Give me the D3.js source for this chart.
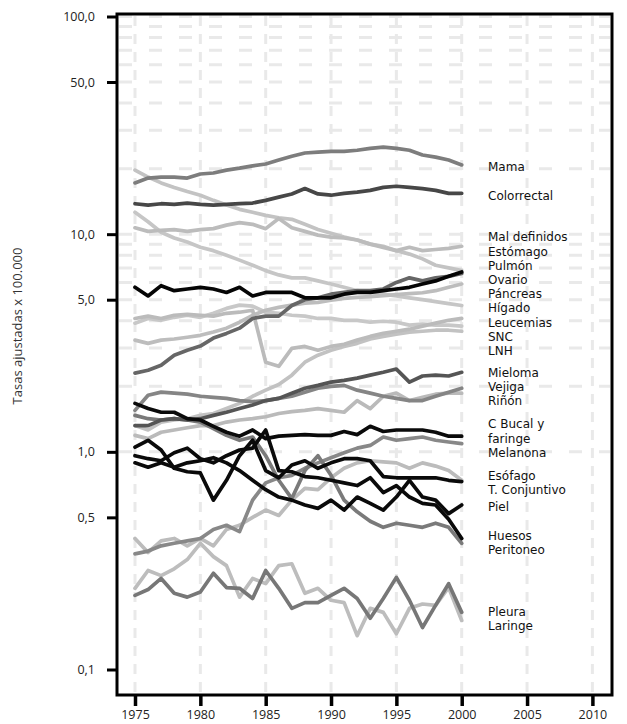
<!DOCTYPE html>
<html>
<head>
<meta charset="utf-8">
<script src="https://cdn.jsdelivr.net/npm/d3@7"></script>
<style>
  body { margin: 0; background: #fff; }
  svg { display: block; }
</style>
</head>
<body>
<svg id="chart" width="627" height="724"></svg>
<script>
// Age-adjusted mortality rates per 100,000, 1975-2000
const years = [1975,1976,1977,1978,1979,1980,1981,1982,1983,1984,1985,1986,1987,
               1988,1989,1990,1991,1992,1993,1994,1995,1996,1997,1998,1999,2000];

const mama        = [17.2,18.1,18.3,18.3,18.1,18.9,19.1,19.7,20.1,20.6,21.0,21.9,22.8,23.6,23.8,24.0,24.0,24.3,24.8,25.1,24.8,24.3,23.1,22.6,21.9,20.8];
const colorrectal = [13.8,13.6,13.8,13.7,13.9,13.7,13.6,13.7,13.8,13.9,14.3,14.8,15.3,16.2,15.3,15.1,15.4,15.6,15.9,16.4,16.6,16.4,16.2,15.9,15.4,15.4];
const malDefinidos= [10.7,10.3,10.4,10.5,10.3,10.5,10.6,11.0,11.3,11.1,10.6,11.8,10.7,10.3,9.9,9.7,9.6,9.4,9.0,8.7,8.4,8.7,8.4,8.5,8.6,8.8];
const estomago    = [19.7,18.3,17.2,16.4,15.7,15.1,14.3,13.6,13.0,12.6,12.2,11.9,11.7,11.1,10.5,10.1,9.7,9.4,9.0,8.8,8.4,8.1,7.7,7.2,7.0,6.8];
const pulmon      = [5.7,5.2,5.8,5.5,5.6,5.7,5.6,5.4,5.7,5.2,5.4,5.4,5.4,5.1,5.1,5.1,5.3,5.4,5.4,5.5,5.6,5.7,5.9,6.1,6.4,6.7];
const ovario      = [2.30,2.37,2.50,2.78,2.93,3.06,3.33,3.50,3.70,4.10,4.20,4.20,4.70,5.00,5.10,5.30,5.40,5.50,5.50,5.60,6.00,6.30,6.10,6.30,6.40,6.60];
const pancreas    = [3.26,3.15,3.26,3.30,3.36,3.43,3.55,3.70,3.94,4.24,4.47,4.61,4.72,4.82,4.86,4.97,5.07,5.12,5.17,5.22,5.27,5.33,5.38,5.50,5.70,5.90];
const higado      = [12.6,11.4,10.2,9.6,9.2,8.7,8.4,8.0,7.6,7.2,6.8,6.5,6.3,6.3,6.1,5.9,5.7,5.5,5.4,5.3,5.2,5.1,5.0,4.9,4.8,4.7];
const leucemias   = [4.10,4.20,4.10,4.24,4.28,4.24,4.20,4.33,4.38,4.47,2.58,2.47,2.99,3.05,2.93,3.05,3.12,3.26,3.39,3.50,3.58,3.66,3.78,3.90,4.02,4.10];
const snc         = [3.90,4.10,4.02,4.15,4.24,4.15,4.33,4.56,4.72,4.67,4.38,4.33,4.24,4.20,4.10,4.10,4.02,4.02,3.94,3.98,3.94,3.82,3.86,3.82,3.82,3.78];
const lnh         = [1.32,1.26,1.37,1.40,1.42,1.47,1.50,1.58,1.67,1.80,1.92,2.04,2.25,2.58,2.78,2.93,3.05,3.15,3.30,3.39,3.47,3.55,3.58,3.62,3.62,3.58];
const mieloma     = [1.32,1.32,1.40,1.42,1.40,1.42,1.47,1.52,1.58,1.64,1.72,1.76,1.86,1.96,2.02,2.09,2.13,2.18,2.25,2.32,2.40,2.09,2.23,2.25,2.23,2.32];
const vejiga      = [1.55,1.82,1.88,1.86,1.84,1.80,1.78,1.76,1.72,1.70,1.72,1.76,1.80,1.88,1.96,2.00,2.02,1.92,1.86,1.80,1.76,1.72,1.72,1.80,1.88,1.96];
const rinon       = [1.19,1.15,1.23,1.26,1.29,1.32,1.32,1.37,1.40,1.42,1.45,1.50,1.53,1.55,1.58,1.55,1.52,1.72,1.58,1.80,1.86,1.72,1.78,1.84,1.86,1.86];
const cBucal      = [1.67,1.58,1.52,1.52,1.42,1.40,1.31,1.23,1.18,1.26,1.15,1.18,1.19,1.20,1.19,1.19,1.24,1.20,1.31,1.24,1.26,1.26,1.26,1.23,1.18,1.18];
const melanona    = [0.34,0.35,0.37,0.38,0.39,0.40,0.44,0.46,0.43,0.60,0.72,0.76,0.78,0.84,0.89,0.94,0.99,1.04,1.07,1.17,1.13,1.15,1.17,1.13,1.11,1.09];
const esofago     = [1.05,1.13,1.02,0.84,0.81,0.80,0.60,0.74,0.96,1.13,0.82,0.76,0.87,0.91,0.84,0.89,0.93,0.93,0.91,0.77,0.76,0.76,0.76,0.76,0.74,0.73];
const tConjuntivo = [0.40,0.345,0.39,0.40,0.37,0.40,0.37,0.44,0.46,0.50,0.54,0.51,0.60,0.68,0.67,0.76,0.84,0.89,0.91,0.90,0.89,0.84,0.89,0.86,0.82,0.74];
const piel        = [0.89,0.85,0.89,0.85,0.89,0.91,0.94,0.89,0.82,0.74,0.67,0.62,0.60,0.57,0.55,0.60,0.54,0.62,0.58,0.54,0.62,0.74,0.62,0.60,0.52,0.57];
const huesos      = [0.96,0.93,0.91,0.99,1.04,0.93,0.89,0.96,1.02,1.04,1.26,0.82,0.81,0.77,0.76,0.74,0.72,0.70,0.76,0.65,0.70,0.62,0.58,0.57,0.49,0.40];
const peritoneo   = [1.47,1.42,1.40,1.42,1.40,1.37,1.28,1.19,1.13,1.17,0.96,0.74,0.61,0.82,0.96,0.78,0.60,0.53,0.48,0.45,0.47,0.46,0.45,0.47,0.45,0.38];
const pleura      = [0.219,0.233,0.262,0.224,0.215,0.227,0.277,0.238,0.236,0.212,0.285,0.236,0.191,0.203,0.203,0.219,0.236,0.212,0.172,0.212,0.265,0.208,0.156,0.197,0.248,0.183];
const laringe     = [0.236,0.285,0.270,0.290,0.320,0.380,0.330,0.300,0.215,0.262,0.248,0.300,0.306,0.224,0.236,0.208,0.203,0.143,0.191,0.183,0.146,0.191,0.200,0.197,0.238,0.168];

// Series names, in the order their labels are listed at the right edge
const seriesNames = ["Mama","Colorrectal","Mal definidos","Estómago","Pulmón","Ovario","Páncreas",
  "Hígado","Leucemias","SNC","LNH","Mieloma","Vejiga","Riñón","C Bucal y\nfaringe","Melanona",
  "Esófago","T. Conjuntivo","Piel","Huesos","Peritoneo","Pleura","Laringe"];
const seriesValues = [mama,colorrectal,malDefinidos,estomago,pulmon,ovario,pancreas,
  higado,leucemias,snc,lnh,mieloma,vejiga,rinon,cBucal,melanona,
  esofago,tConjuntivo,piel,huesos,peritoneo,pleura,laringe];

const yTickValues = [0.1, 0.5, 1, 5, 10, 50, 100];
const yTickLabels = ["0,1", "0,5", "1,0", "5,0", "10,0", "50,0", "100,0"];
const xTickYears  = [1975, 1980, 1985, 1990, 1995, 2000, 2005, 2010];
const yTitle = "Tasas ajustadas x 100.000";

// Stroke shade per series
const seriesInk = {
  "Mama": "#7d7d7d", "Colorrectal": "#474747", "Mal definidos": "#bcbcbc", "Estómago": "#c3c3c3",
  "Pulmón": "#050505", "Ovario": "#666666", "Páncreas": "#bdbdbd", "Hígado": "#c6c6c6",
  "Leucemias": "#bbbbbb", "SNC": "#c8c8c8", "LNH": "#c2c2c2", "Mieloma": "#555555",
  "Vejiga": "#858585", "Riñón": "#bababa", "C Bucal y\nfaringe": "#0a0a0a", "Melanona": "#888888",
  "Esófago": "#0a0a0a", "T. Conjuntivo": "#bcbcbc", "Piel": "#0a0a0a", "Huesos": "#0a0a0a",
  "Peritoneo": "#7a7a7a", "Pleura": "#777777", "Laringe": "#bdbdbd"
};

// Layout
const frame = { left: 117, right: 612, top: 14, bottom: 695 };
const x = d3.scaleLinear().domain([1975, 2010]).range([135, 592.4]);
const y = d3.scaleLog().domain([0.1, 100]).range([669.5, 16.5]);

const svg = d3.select("#chart");
const font = "'Open Sans', 'Liberation Sans', sans-serif";
const labelFont = "'DejaVu Sans', 'Liberation Sans', sans-serif";

// Light dashed grid
const grid = svg.append("g");
grid.selectAll("line.v").data(xTickYears).join("line")
  .attr("x1", d => x(d)).attr("x2", d => x(d))
  .attr("y1", frame.top + 2).attr("y2", frame.bottom - 2)
  .attr("stroke", "#e9e9e9").attr("stroke-width", 3).attr("stroke-dasharray", "10,8");
grid.selectAll("line.h").data(y.ticks().filter(v => v >= 1)).join("line")
  .attr("x1", frame.left + 2).attr("x2", frame.right - 2)
  .attr("y1", d => y(d)).attr("y2", d => y(d))
  .attr("stroke", "#e9e9e9").attr("stroke-width", 3).attr("stroke-dasharray", "13,17");

// Series lines, lighter shades underneath
const series = seriesNames.map((name, i) => ({ name, values: seriesValues[i] }));
const lum = c => d3.hsl(c).l;
const drawOrder = series.slice().sort((a, b) => lum(seriesInk[b.name]) - lum(seriesInk[a.name]));
const line = d3.line().x((d, i) => x(years[i])).y(d => y(d));
svg.append("g").selectAll("path").data(drawOrder).join("path")
  .attr("d", d => line(d.values))
  .attr("fill", "none")
  .attr("stroke", d => seriesInk[d.name])
  .attr("stroke-width", 3.7)
  .attr("stroke-linejoin", "round")
  .attr("stroke-linecap", "round");

// Frame
svg.append("rect")
  .attr("x", frame.left).attr("y", frame.top)
  .attr("width", frame.right - frame.left).attr("height", frame.bottom - frame.top)
  .attr("fill", "none").attr("stroke", "#000").attr("stroke-width", 3);

// Y axis
const yAxis = svg.append("g").attr("transform", `translate(${frame.left},0)`)
  .call(d3.axisLeft(y).tickValues(yTickValues).tickFormat((d, i) => yTickLabels[i])
    .tickSize(10).tickPadding(12));
yAxis.select(".domain").remove();
yAxis.selectAll(".tick line").attr("stroke", "#000").attr("stroke-width", 3);
yAxis.selectAll(".tick text").attr("font-family", font).attr("font-size", 12.5).attr("fill", "#222");

// X axis
const xAxis = svg.append("g").attr("transform", `translate(0,${frame.bottom})`)
  .call(d3.axisBottom(x).tickValues(xTickYears).tickFormat(d3.format("d"))
    .tickSize(11).tickPadding(4));
xAxis.select(".domain").remove();
xAxis.selectAll(".tick line").attr("stroke", "#000").attr("stroke-width", 3.5);
xAxis.selectAll(".tick text").attr("font-family", font).attr("font-size", 12.5).attr("fill", "#222");

// Y title
svg.append("text")
  .attr("transform", "translate(22,326) rotate(-90)")
  .attr("text-anchor", "middle")
  .attr("font-family", font).attr("font-size", 13).attr("fill", "#333")
  .text(yTitle);

// Right-hand labels: start at each line's end, then spread overlapping groups apart
const lineH = 14.2;
const items = series.map(s => {
  const lines = s.name.split("\n");
  return { lines, h: lines.length * lineH, target: y(s.values[s.values.length - 1]) };
});
let blocks = items.map(it => ({ members: [it] }));
function settle(b) {
  let off = 0;
  const diffs = b.members.map(m => { const c = off + m.h / 2; off += m.h; m.off = c; return m.target - c; });
  b.top = d3.mean(diffs); b.height = off;
}
blocks.forEach(settle);
let merged = true;
while (merged) {
  merged = false;
  for (let i = 1; i < blocks.length; i++) {
    if (blocks[i].top < blocks[i - 1].top + blocks[i - 1].height) {
      blocks[i - 1].members = blocks[i - 1].members.concat(blocks[i].members);
      settle(blocks[i - 1]);
      blocks.splice(i, 1);
      merged = true;
      break;
    }
  }
}
blocks.forEach(b => b.members.forEach(m => { m.center = b.top + m.off; }));

const labels = svg.append("g").attr("font-family", labelFont).attr("font-size", 12).attr("fill", "#111");
items.forEach(it => {
  const t = labels.append("text").attr("x", 488);
  it.lines.forEach((txt, k) => {
    t.append("tspan").attr("x", 488)
      .attr("y", it.center - (it.lines.length - 1) * lineH / 2 + k * lineH + 2)
      .attr("dy", "0.35em").text(txt);
  });
});
</script>
</body>
</html>
